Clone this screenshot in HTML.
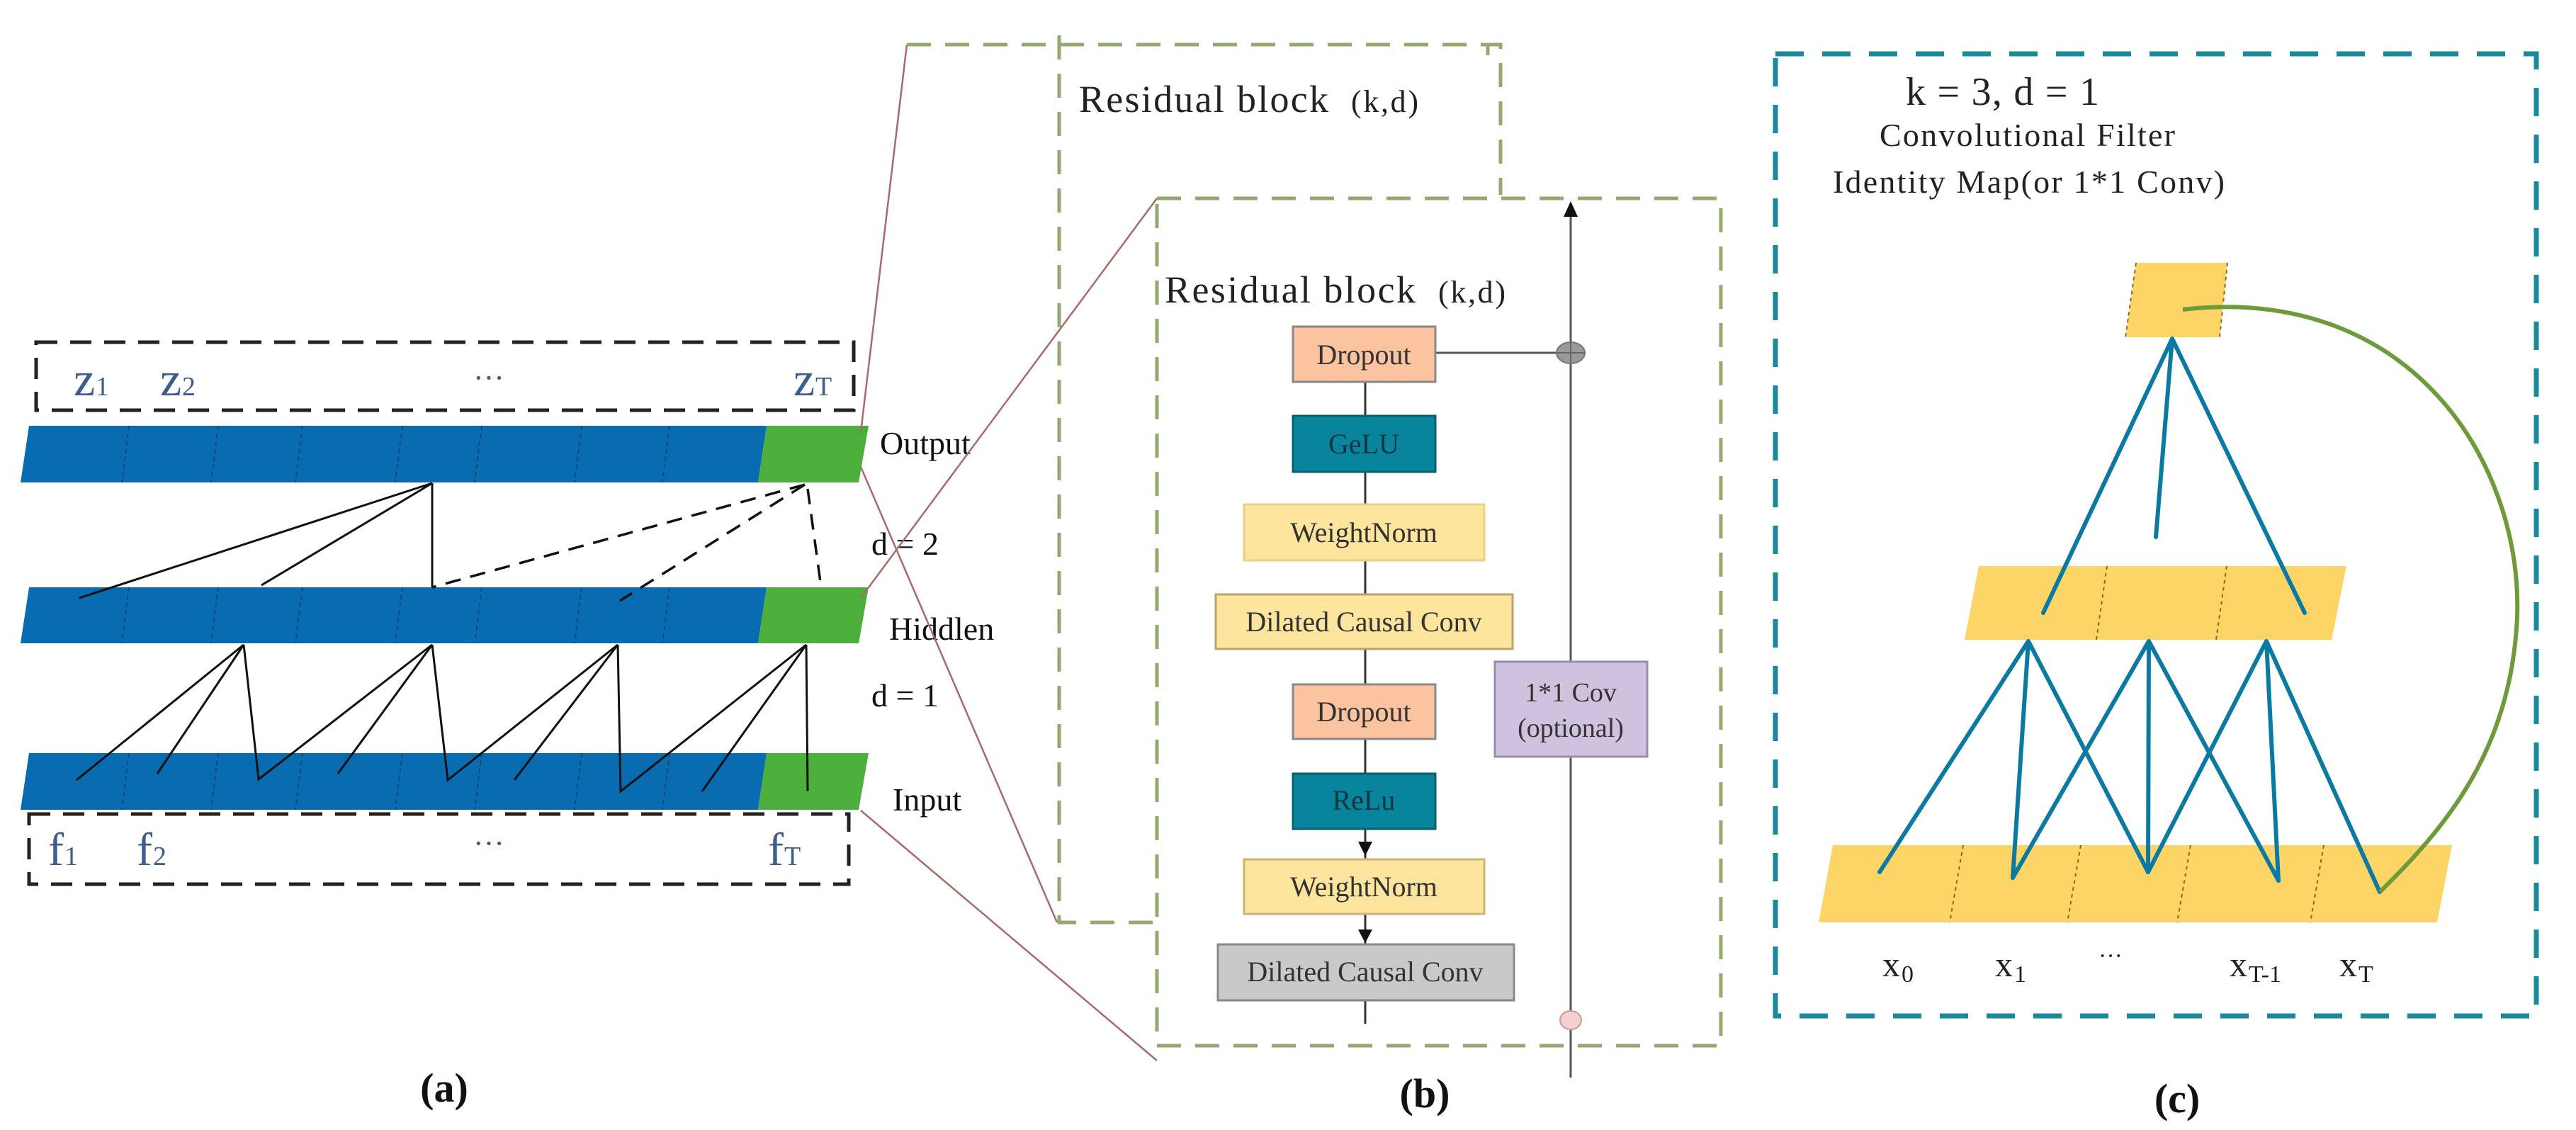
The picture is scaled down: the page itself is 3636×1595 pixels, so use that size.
<!DOCTYPE html>
<html><head><meta charset="utf-8"><style>
html,body{margin:0;padding:0;background:#fff;}
svg{display:block;}
text{font-family:"Liberation Serif",serif;}
</style></head><body>
<svg width="3636" height="1595" viewBox="0 0 3636 1595" xmlns="http://www.w3.org/2000/svg">
<rect width="3636" height="1595" fill="#fff"/>

<!-- ============ Panel (a) ============ -->
<rect x="51" y="483" width="1154" height="96" fill="none" stroke="#222" stroke-width="5" stroke-dasharray="30,18"/>
<g fill="#3d5d8c" font-size="68">
<text x="104" y="558">z</text><text x="135" y="558" font-size="38">1</text>
<text x="226" y="558">z</text><text x="257" y="558" font-size="38">2</text>
<text x="668" y="548" font-size="44">···</text>
<text x="1120" y="558">z</text><text x="1151" y="558" font-size="38">T</text>
</g>

<!-- bars -->
<g>
<polygon points="41,601 1082,601 1070,681 29,681" fill="#0a6cb0"/>
<polygon points="1082,601 1226,601 1212,681 1070,681" fill="#4caf3c"/>
<polygon points="41,829 1082,829 1070,908 29,908" fill="#0a6cb0"/>
<polygon points="1082,829 1226,829 1212,908 1070,908" fill="#4caf3c"/>
<polygon points="41,1063 1082,1063 1070,1143 29,1143" fill="#0a6cb0"/>
<polygon points="1082,1063 1226,1063 1212,1143 1070,1143" fill="#4caf3c"/>
</g>
<g stroke="#0b3d66" stroke-width="1.5" stroke-dasharray="6,5">
<path d="M182,601 L172,681 M308,601 L298,681 M427,601 L417,681 M568,601 L558,681 M680,601 L670,681 M821,601 L811,681 M945,601 L935,681"/>
<path d="M182,829 L172,908 M308,829 L298,908 M427,829 L417,908 M568,829 L558,908 M680,829 L670,908 M821,829 L811,908 M945,829 L935,908"/>
<path d="M182,1063 L172,1143 M308,1063 L298,1143 M427,1063 L417,1143 M568,1063 L558,1143 M680,1063 L670,1143 M821,1063 L811,1143 M945,1063 L935,1143"/>
</g>

<!-- connections -->
<g stroke="#111" stroke-width="3" fill="none">
<path d="M610,682 L112,844 M610,682 L369,826 M610,682 L610,829"/>
<path d="M344,910 L108,1101 M344,910 L222,1092 M344,910 L365,1100 L610,910 M610,910 L477,1092 M610,910 L632,1101 L872,910 M872,910 L726,1101 M872,910 L876,1117 L1138,910 M1138,910 L991,1117 M1138,910 L1140,1117"/>
</g>
<g stroke="#111" stroke-width="3.5" fill="none" stroke-dasharray="22,14">
<path d="M1136,684 L610,829 M1136,684 L875,848 M1140,690 L1159,829"/>
</g>

<rect x="41" y="1149" width="1157" height="99" fill="none" stroke="#222" stroke-width="5" stroke-dasharray="30,18"/>
<g fill="#3d5d8c" font-size="66">
<text x="68" y="1221">f</text><text x="91" y="1221" font-size="38">1</text>
<text x="193" y="1221">f</text><text x="216" y="1221" font-size="38">2</text>
<text x="668" y="1205" font-size="44">···</text>
<text x="1084" y="1221">f</text><text x="1107" y="1221" font-size="38">T</text>
</g>

<g fill="#111" font-size="46">
<text x="1242" y="641">Output</text>
<text x="1230" y="783">d = 2</text>
<text x="1255" y="903">Hiddlen</text>
<text x="1230" y="997">d = 1</text>
<text x="1260" y="1144">Input</text>
</g>
<text x="627" y="1555" font-size="58" font-weight="bold" text-anchor="middle" fill="#111">(a)</text>

<!-- brown zoom lines -->
<g stroke="#a86a6a" stroke-width="2.5" fill="none">
<path d="M1215,610 L1280,63"/>
<path d="M1215,659 L1492,1302"/>
<path d="M1215,844 L1633,280"/>
<path d="M1215,1144 L1633,1497"/>
</g>

<!-- ============ Panel (b) ============ -->
<g stroke="#95a872" stroke-width="5" fill="none" stroke-dasharray="34,20">
<path d="M1280,63 L2118,63 L2118,275"/>
<path d="M1495,50 L1495,1302 L1633,1302"/>
<path d="M1633,280 L2429,280 L2429,1476 L1633,1476 L1633,280"/>
</g>
<path d="M2100,78 L2100,63 L2118,63" stroke="#95a872" stroke-width="5" fill="none"/>

<text x="1523" y="158" font-size="54" fill="#222" textLength="352">Residual block</text>
<text x="1907" y="158" font-size="44" fill="#222" textLength="95">(k,d)</text>
<text x="1644" y="427" font-size="54" fill="#222" textLength="354">Residual block</text>
<text x="2030" y="427" font-size="44" fill="#222" textLength="95">(k,d)</text>

<!-- center line -->
<path d="M1927,539 L1927,1445" stroke="#333" stroke-width="3"/>
<!-- right skip line -->
<path d="M2217,300 L2217,1521" stroke="#555" stroke-width="3"/>
<polygon points="2217,284 2207,306 2227,306" fill="#111"/>
<path d="M2026,498 L2217,498" stroke="#555" stroke-width="3"/>
<ellipse cx="2217" cy="498" rx="20" ry="15" fill="#999" stroke="#777" stroke-width="2"/>
<path d="M2197,498 L2237,498 M2217,483 L2217,513" stroke="#666" stroke-width="2"/>
<ellipse cx="2217" cy="1440" rx="15" ry="13" fill="#f5d0d0" stroke="#c99" stroke-width="2"/>

<g font-size="40" text-anchor="middle">
<rect x="1825" y="461" width="201" height="78" fill="#fbc39f" stroke="#888" stroke-width="3"/>
<text x="1925" y="514" fill="#333">Dropout</text>
<rect x="1825" y="587" width="201" height="79" fill="#08859c" stroke="#0a5f6e" stroke-width="3"/>
<text x="1925" y="640" fill="#0d3540">GeLU</text>
<rect x="1756" y="712" width="339" height="79" fill="#fee59d" stroke="#e8d08a" stroke-width="3"/>
<text x="1925" y="765" fill="#333">WeightNorm</text>
<rect x="1716" y="839" width="419" height="77" fill="#fee59d" stroke="#b8a36a" stroke-width="3"/>
<text x="1925" y="891" fill="#333">Dilated Causal Conv</text>
<rect x="1825" y="966" width="201" height="77" fill="#fbc39f" stroke="#888" stroke-width="3"/>
<text x="1925" y="1018" fill="#333">Dropout</text>
<rect x="1825" y="1092" width="201" height="78" fill="#08859c" stroke="#0a5f6e" stroke-width="3"/>
<text x="1925" y="1143" fill="#0d3540">ReLu</text>
<rect x="1756" y="1213" width="339" height="77" fill="#fee59d" stroke="#c9b57a" stroke-width="3"/>
<text x="1925" y="1265" fill="#333">WeightNorm</text>
<rect x="1719" y="1333" width="418" height="79" fill="#c9c9c9" stroke="#888" stroke-width="3"/>
<text x="1927" y="1385" fill="#333">Dilated Causal Conv</text>
<rect x="2110" y="934" width="215" height="134" fill="#cfc2de" stroke="#9a8ab0" stroke-width="3"/>
<text x="2217" y="990" fill="#333" font-size="38">1*1 Cov</text>
<text x="2217" y="1040" fill="#333" font-size="38">(optional)</text>
</g>
<polygon points="1917,1188 1937,1188 1927,1208" fill="#111"/>
<polygon points="1917,1312 1937,1312 1927,1331" fill="#111"/>
<text x="2011" y="1563" font-size="58" font-weight="bold" text-anchor="middle" fill="#111">(b)</text>

<!-- ============ Panel (c) ============ -->
<rect x="2506" y="76" width="1074" height="1358" fill="none" stroke="#1a8a9a" stroke-width="7" stroke-dasharray="40,26"/>
<text x="2690" y="148" font-size="56" fill="#222" textLength="273">k = 3, d = 1</text>
<text x="2653" y="206" font-size="46" fill="#222" textLength="417">Convolutional Filter</text>
<text x="2587" y="272" font-size="46" fill="#222" textLength="553">Identity Map(or 1*1 Conv)</text>

<polygon points="3015,371 3144,371 3133,476 3000,476" fill="#fdd566"/>
<polygon points="2793,799 3312,799 3291,903 2773,903" fill="#fdd566"/>
<polygon points="2587,1193 3461,1193 3440,1302 2567,1302" fill="#fdd566"/>
<g stroke="#8a6a20" stroke-width="2" stroke-dasharray="5,5">
<path d="M3015,371 L3000,476 M3144,371 L3133,476"/>
<path d="M2974,799 L2959,903 M3143,799 L3128,903"/>
<path d="M2771,1193 L2752,1302 M2937,1193 L2918,1302 M3092,1193 L3073,1302 M3280,1193 L3261,1302"/>
</g>

<g stroke="#0b7aa2" stroke-width="6" fill="none" stroke-linecap="round">
<path d="M3066,478 L2884,865 M3066,478 L3043,758 M3066,478 L3253,865"/>
<path d="M2863,905 L2653,1231 M2863,905 L2841,1239 M2863,905 L3032,1231"/>
<path d="M3033,905 L2841,1239 M3033,905 L3032,1231 M3033,905 L3216,1243"/>
<path d="M3199,905 L3032,1231 M3199,905 L3216,1243 M3199,905 L3359,1259"/>
</g>
<path d="M3081,437 C3400,400 3560,650 3553,870 C3545,1060 3450,1170 3359,1259" stroke="#6e9a3a" stroke-width="6" fill="none"/>

<g font-size="50" fill="#222">
<text x="2657" y="1378">x</text><text x="2684" y="1386" font-size="34">0</text>
<text x="2816" y="1378">x</text><text x="2843" y="1386" font-size="34">1</text>
<text x="2962" y="1360" font-size="34">···</text>
<text x="3147" y="1378">x</text><text x="3174" y="1386" font-size="34">T-1</text>
<text x="3302" y="1378">x</text><text x="3329" y="1386" font-size="34">T</text>
</g>
<text x="3073" y="1570" font-size="58" font-weight="bold" text-anchor="middle" fill="#111">(c)</text>
</svg>
</body></html>
